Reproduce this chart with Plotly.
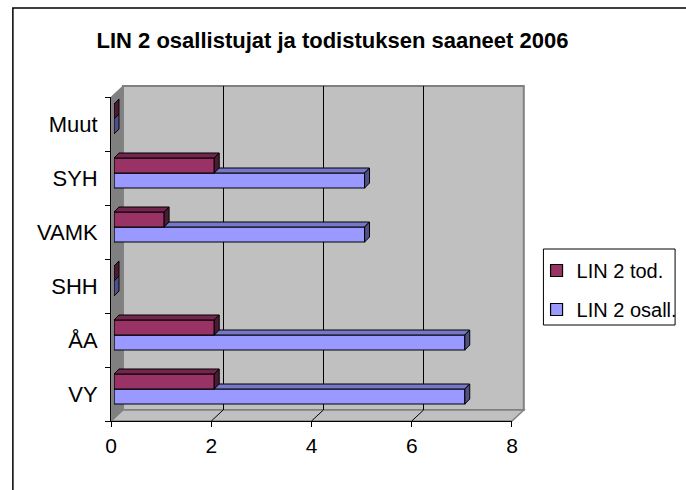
import plotly.graph_objects as go

# ---------------- data ----------------
categories = ["VY", "ÅA", "SHH", "VAMK", "SYH", "Muut"]
osall = [7, 7, 0, 5, 5, 0]          # LIN 2 osall.
tod = [2, 2, 0, 1, 2, 0]            # LIN 2 tod.
x_ticks = [0, 2, 4, 6, 8]
title_text = "LIN 2 osallistujat ja todistuksen saaneet 2006"

# ---------------- geometry (window pixels) ----------------
W, H = 686, 490
FX0, FX1 = 107, 515           # front plane x pixels for 0..8
FYB, FYT = 421, 97            # front plane y pixels (bottom, top)
WALL_DX, WALL_DY = 12, 11     # back-wall offset
BAR_DX, BAR_DY = 3, 3         # bars' front face offset
DEPTH_PX = 5                  # bar depth in pixels
XMAX = 8
NCAT = len(categories)
px_per_x = (FX1 - FX0) / XMAX
px_per_y = (FYB - FYT) / NCAT


def fx(px):
    return px / W


def fy(py):
    return 1 - py / H


def xd(a, b):
    return [fx(a), fx(b)]


def yd(bottom, top):
    return [fy(bottom), fy(top)]


ddx = DEPTH_PX / px_per_x
ddy = DEPTH_PX / px_per_y

BAR_W = 0.278
series = [
    dict(name="LIN 2 osall.", vals=osall, off=-0.241, front="#9999FF",
         top="#7777C8", side="#505088", rank=2, xa="x3", ya="y3"),
    dict(name="LIN 2 tod.", vals=tod, off=0.037, front="#993366",
         top="#73264D", side="#4D1A33", rank=1, xa="x4", ya="y4"),
]

fig = go.Figure()

# wall subplot (x/y) and front axes (x2/y2) placeholders
fig.add_trace(go.Scatter(x=[None], y=[None], xaxis="x", yaxis="y",
                         showlegend=False, hoverinfo="skip"))
fig.add_trace(go.Scatter(x=[None], y=[None], xaxis="x2", yaxis="y2",
                         showlegend=False, hoverinfo="skip"))

for s in series:
    idx = list(range(NCAT))
    fig.add_trace(go.Bar(
        y=idx, x=s["vals"], orientation="h", base=0,
        width=BAR_W, offset=s["off"], name=s["name"],
        marker=dict(color=s["front"], line=dict(color="black", width=1.2)),
        xaxis=s["xa"], yaxis=s["ya"], legendrank=s["rank"],
        legendgroup=s["name"], showlegend=True, hoverinfo="x+y",
    ))
    tx, ty, sx, sy = [], [], [], []
    for i, v in enumerate(s["vals"]):
        b = i + s["off"]
        t = b + BAR_W
        tx += [0, v, v + ddx, ddx, 0, None]
        ty += [t, t, t + ddy, t + ddy, t, None]
        sx += [v, v, v + ddx, v + ddx, v, None]
        sy += [b, t, t + ddy, b + ddy, b, None]
    fig.add_trace(go.Scatter(x=tx, y=ty, mode="lines", fill="toself",
                             fillcolor=s["top"], line=dict(color="black", width=1),
                             xaxis=s["xa"], yaxis=s["ya"], showlegend=False,
                             hoverinfo="skip"))
    fig.add_trace(go.Scatter(x=sx, y=sy, mode="lines", fill="toself",
                             fillcolor=s["side"], line=dict(color="black", width=1),
                             xaxis=s["xa"], yaxis=s["ya"], showlegend=False,
                             hoverinfo="skip"))

font = "Liberation Sans, Arial, sans-serif"
hidden = dict(visible=False, showgrid=False, zeroline=False, fixedrange=True)

fig.update_layout(
    width=W, height=H, autosize=False,
    margin=dict(l=0, r=0, t=0, b=0),
    paper_bgcolor="white", plot_bgcolor="rgba(0,0,0,0)",
    barmode="overlay",
    font=dict(family=font, color="black", size=22),
    title=dict(text="<b>" + title_text + "</b>", x=fx(332.5), xanchor="center",
               y=fy(40), yanchor="middle",
               font=dict(family=font, size=22, color="black")),
    # back wall axes
    xaxis=dict(domain=xd(FX0 + WALL_DX, FX1 + WALL_DX), range=[0, XMAX],
               showgrid=True, gridcolor="black", gridwidth=1,
               tickvals=x_ticks[1:-1], showticklabels=False, ticks="",
               zeroline=False, showline=False, fixedrange=True),
    yaxis=dict(domain=yd(FYB - WALL_DY, FYT - WALL_DY), range=[-0.5, NCAT - 0.5],
               showgrid=False, zeroline=False, showticklabels=False,
               ticks="", showline=False, fixedrange=True),
    # front axes (labels, ticks)
    xaxis2=dict(domain=xd(FX0, FX1), range=[0, XMAX], anchor="y2",
                tickvals=x_ticks, ticks="outside", ticklen=5, tickcolor="black",
                showline=True, linecolor="black", linewidth=1,
                showgrid=False, zeroline=False, ticklabelstandoff=1,
                tickfont=dict(size=21), fixedrange=True),
    yaxis2=dict(domain=yd(FYB, FYT), range=[-0.5, NCAT - 0.5], anchor="x2",
                tickvals=list(range(NCAT)), ticktext=categories, ticks="",
                minor=dict(tickmode="array",
                           tickvals=[i - 0.5 for i in range(NCAT + 1)],
                           ticks="outside", ticklen=5, tickcolor="black",
                           showgrid=False),
                showline=True, linecolor="black", linewidth=1,
                showgrid=False, zeroline=False, ticklabelstandoff=8,
                tickfont=dict(size=22), fixedrange=True),
    # bar axes (shifted slightly into depth)
    xaxis3=dict(domain=xd(FX0 + BAR_DX, FX1 + BAR_DX), range=[0, XMAX],
                anchor="y3", **hidden),
    yaxis3=dict(domain=yd(FYB - BAR_DY, FYT - BAR_DY), range=[-0.5, NCAT - 0.5],
                anchor="x3", **hidden),
    xaxis4=dict(domain=xd(FX0 + BAR_DX, FX1 + BAR_DX), range=[0, XMAX],
                anchor="y4", **hidden),
    yaxis4=dict(domain=yd(FYB - BAR_DY, FYT - BAR_DY), range=[-0.5, NCAT - 0.5],
                anchor="x4", **hidden),
    legend=dict(x=fx(540), xanchor="left", y=fy(251), yanchor="top",
                bgcolor="rgba(0,0,0,0)", borderwidth=0,
                font=dict(family=font, size=20, color="black"),
                traceorder="grouped", tracegroupgap=10),
)

# ---------- 3D walls and floor ----------
fdx = WALL_DX / (FX1 - FX0)
fdy = WALL_DY / (FYB - FYT)
shapes = [
    # outer chart border
    dict(type="rect", xref="paper", yref="paper", x0=fx(7), x1=1.05,
         y0=-0.05, y1=fy(8), line=dict(color="black", width=1.5),
         fillcolor="rgba(0,0,0,0)", layer="below"),
    # back wall
    dict(type="rect", xref="x domain", yref="y domain", x0=0, x1=1, y0=0, y1=1,
         fillcolor="#C0C0C0", line=dict(color="#808080", width=2), layer="below"),
    # floor
    dict(type="path", xref="x2 domain", yref="y2 domain",
         path=f"M0,0 L1,0 L{1 + fdx},{fdy} L{fdx},{fdy} Z",
         fillcolor="#C0C0C0", line=dict(color="#808080", width=1.5), layer="below"),
    # side wall
    dict(type="path", xref="x2 domain", yref="y2 domain",
         path=f"M0,0 L{fdx},{fdy} L{fdx},{1 + fdy} L0,1 Z",
         fillcolor="#808080", line=dict(color="#808080", width=1), layer="below"),
    # legend box
    dict(type="rect", xref="paper", yref="paper", x0=fx(547), x1=fx(681),
         y0=fy(325), y1=fy(249), fillcolor="white",
         line=dict(color="black", width=1), layer="below"),
]
# floor grid diagonals
for v in x_ticks[1:-1]:
    shapes.append(dict(type="line", xref="x2", yref="y2 domain",
                       x0=v, y0=0, x1=v + WALL_DX / px_per_x, y1=fdy,
                       line=dict(color="black", width=1), layer="below"))
fig.update_layout(shapes=shapes)

fig.write_html("out.html",
               config={"displayModeBar": False},
               post_script="document.body.style.margin='0';")
